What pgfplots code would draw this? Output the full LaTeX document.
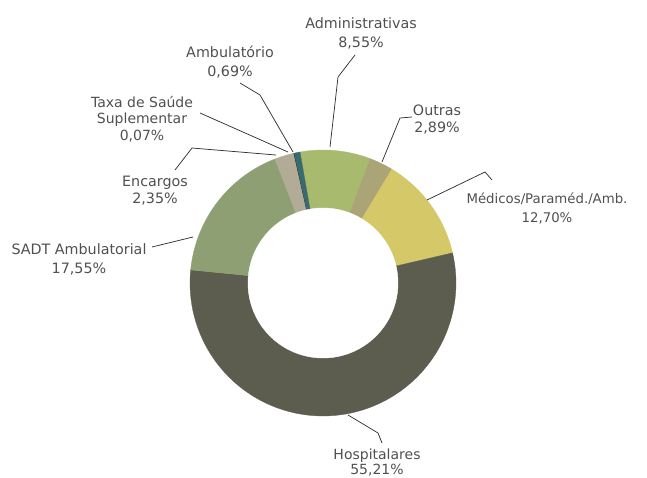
\documentclass[border=0pt]{standalone}
\usepackage{pgfplots}
\pgfplotsset{compat=1.18}
\usepackage{fontspec}
\setmainfont{DejaVu Sans}
\definecolor{cAdm}{RGB}{168,186,110}
\definecolor{cOut}{RGB}{170,164,118}
\definecolor{cMed}{RGB}{212,200,104}
\definecolor{cHos}{RGB}{92,93,78}
\definecolor{cSADT}{RGB}{142,160,115}
\definecolor{cEnc}{RGB}{178,172,150}
\definecolor{cTaxa}{RGB}{40,60,60}
\definecolor{cAmb}{RGB}{58,105,110}
\definecolor{txt}{RGB}{80,80,80}
\tikzset{lab/.style={text=txt, align=center, inner sep=0pt, font=\fontsize{14.3}{19}\selectfont}}
\def\cx{323}\def\cy{283}\def\R{133}\def\r{75}
\def\curang{100}
\newcommand{\slice}[2]{%
  \pgfmathsetmacro{\endang}{\curang-3.6*#1}%
  \edef\doslice{\noexpand\addplot[fill=#2, draw=#2, line width=0.3pt, domain=\endang:\curang, samples=80]
    ({\cx+\R*cos(x)},{\cy-\R*sin(x)}) -- (axis cs:\cx,\cy) -- cycle;}%
  \doslice
  \global\let\curang\endang
}
\begin{document}
\begin{tikzpicture}
\begin{axis}[
  scale only axis, width=647pt, height=477pt,
  xmin=0, xmax=647, ymin=0, ymax=477, y dir=reverse,
  hide axis, clip=false,
]
% values in percent, clockwise from 100 degrees
\slice{8.55}{cAdm}
\slice{2.89}{cOut}
\slice{12.70}{cMed}
\slice{55.21}{cHos}
\slice{17.55}{cSADT}
\slice{2.35}{cEnc}
\slice{0.07}{cTaxa}
\slice{0.69}{cAmb}
\addplot[fill=white, draw=white, domain=0:360, samples=150] ({\cx+\r*cos(x)},{\cy-\r*sin(x)}) -- cycle;
% leader lines
\draw[black!80, line width=0.75pt] (axis cs:330,147) -- (axis cs:338,77) -- (axis cs:355,55);
\draw[black!80, line width=0.75pt] (axis cs:240,83) -- (axis cs:260,95) -- (axis cs:293,152);
\draw[black!80, line width=0.75pt] (axis cs:200,113) -- (axis cs:288,152);
\draw[black!80, line width=0.75pt] (axis cs:175,170) -- (axis cs:192,148) -- (axis cs:276,155);
\draw[black!80, line width=0.75pt] (axis cs:152,247) -- (axis cs:193,237);
\draw[black!80, line width=0.75pt] (axis cs:412,117) -- (axis cs:400,118) -- (axis cs:382,162);
\draw[black!80, line width=0.75pt] (axis cs:427,200) -- (axis cs:485,172) -- (axis cs:492,180);
\draw[black!80, line width=0.75pt] (axis cs:348,415) -- (axis cs:378,433) -- (axis cs:382,443);
% labels
\node[lab] at (axis cs:361,33) {Administrativas\\8,55\%};
\node[lab] at (axis cs:230,62) {Ambulatório\\0,69\%};
\node[lab, font=\fontsize{14}{16.5}\selectfont] at (axis cs:142,119) {Taxa de Saúde\\Suplementar\\0,07\%};
\node[lab, font=\fontsize{14.3}{17}\selectfont] at (axis cs:155,191) {Encargos\\2,35\%};
\node[lab] at (axis cs:79,259) {SADT Ambulatorial\\17,55\%};
\node[lab, font=\fontsize{14.3}{17}\selectfont] at (axis cs:437,120) {Outras\\2,89\%};
\node[lab, font=\fontsize{13.3}{19}\selectfont] at (axis cs:547,208) {Médicos/Paraméd./Amb.\\12,70\%};
\node[lab, font=\fontsize{14}{15}\selectfont] at (axis cs:377,462) {Hospitalares\\55,21\%};
\end{axis}
\pgfresetboundingbox
\path (current axis.south west) rectangle (current axis.north east);
\end{tikzpicture}
\end{document}
